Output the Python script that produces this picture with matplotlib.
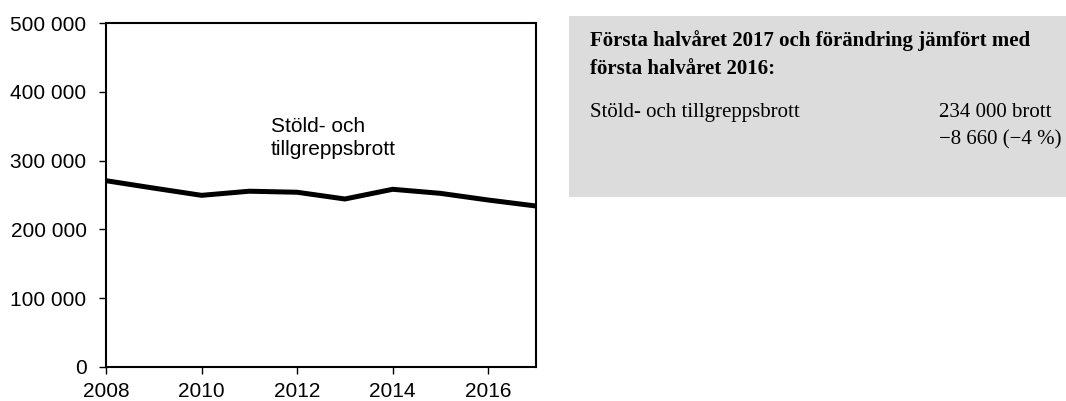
import numpy as np
import matplotlib.pyplot as plt
from matplotlib.ticker import FuncFormatter

# Stöld- och tillgreppsbrott, första halvåret
years = [2008, 2009, 2010, 2011, 2012, 2013, 2014, 2015, 2016, 2017]
brott = [270800, 260000, 249500, 255500, 254000, 244200, 258300, 252400, 242700, 234000]

x_ticks = [2008, 2010, 2012, 2014, 2016]
y_ticks = [0, 100000, 200000, 300000, 400000, 500000]

W, H = 1066, 401
fig = plt.figure(figsize=(W / 100, H / 100), dpi=100)
ax = fig.add_axes([106 / W, 1 - 367 / H, 430 / W, 344 / H])

ax.plot(years, brott, color='black', lw=3.6, solid_joinstyle='miter')
ax.set_xlim(2008, 2017)
ax.set_ylim(0, 500000)
ax.set_xticks(x_ticks)
ax.set_yticks(y_ticks)
ax.yaxis.set_major_formatter(FuncFormatter(lambda v, p: f'{int(v):,}'.replace(',', ' ')))
for s in ax.spines.values():
    s.set_linewidth(1.5)
ax.tick_params(direction='out', length=5, width=1, labelsize=15)
ax.tick_params(axis='y', pad=9)
ax.tick_params(axis='x', pad=6)
for lab in ax.get_xticklabels() + ax.get_yticklabels():
    lab.set_fontfamily('Liberation Sans')

ax.text((271 - 106) / 430, (367 - 132) / 344, 'Stöld- och', transform=ax.transAxes,
        fontsize=15, family='Liberation Sans', va='baseline', ha='left')
ax.text((271 - 106) / 430, (367 - 155) / 344, 'tillgreppsbrott', transform=ax.transAxes,
        fontsize=15, family='Liberation Sans', va='baseline', ha='left')

# grå faktaruta
box = plt.Rectangle((569 / W, 1 - 197 / H), (W - 569) / W, 181 / H,
                    transform=fig.transFigure, color='#dcdcdc', lw=0)
fig.patches.append(box)

serif = 'Liberation Serif'
fig.text(590 / W, 1 - 46 / H, 'Första halvåret 2017 och förändring jämfört med',
         fontsize=15, weight='bold', family=serif, va='baseline')
fig.text(590 / W, 1 - 74 / H, 'första halvåret 2016:',
         fontsize=15, weight='bold', family=serif, va='baseline')
fig.text(590 / W, 1 - 117 / H, 'Stöld- och tillgreppsbrott',
         fontsize=15, family=serif, va='baseline')
fig.text(939 / W, 1 - 117 / H, '234 000 brott',
         fontsize=15, family=serif, va='baseline')
fig.text(939 / W, 1 - 144 / H, '\u22128 660 (\u22124 %)',
         fontsize=15, family=serif, va='baseline')

fig.savefig('out.png', dpi=100)
